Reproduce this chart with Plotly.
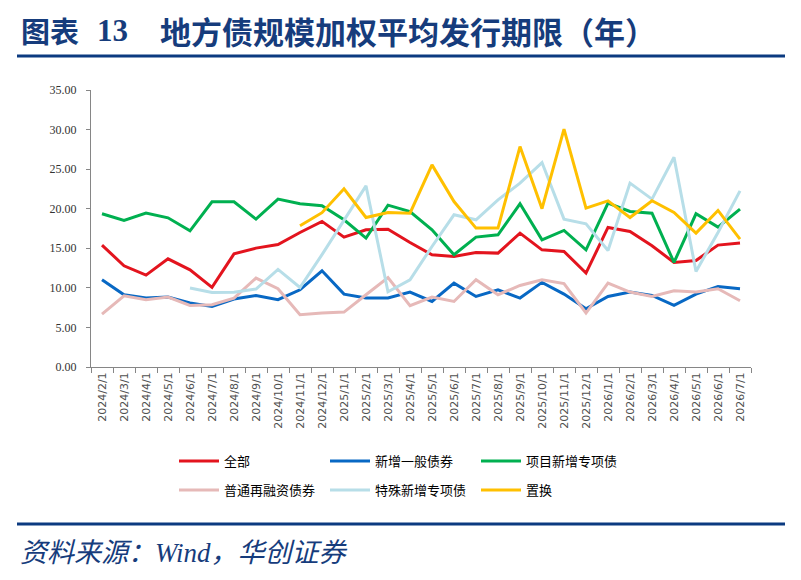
import plotly.graph_objects as go

# Categories (month labels on the x axis)
months = ["2024/2/1", "2024/3/1", "2024/4/1", "2024/5/1", "2024/6/1", "2024/7/1",
          "2024/8/1", "2024/9/1", "2024/10/1", "2024/11/1", "2024/12/1", "2025/1/1",
          "2025/2/1", "2025/3/1", "2025/4/1", "2025/5/1", "2025/6/1", "2025/7/1",
          "2025/8/1", "2025/9/1", "2025/10/1", "2025/11/1", "2025/12/1", "2026/1/1",
          "2026/2/1", "2026/3/1", "2026/4/1", "2026/5/1", "2026/6/1", "2026/7/1"]

# Series values (years)
quanbu = [15.40, 12.79, 11.61, 13.67, 12.28, 10.06, 14.30, 15.02, 15.48, 17.00,
          18.40, 16.41, 17.34, 17.40, 15.73, 14.18, 13.97, 14.47, 14.39, 16.92,
          14.80, 14.60, 11.87, 17.63, 17.12, 15.32, 13.21, 13.46, 15.40, 15.66]
xinzeng_yiban = [11.02, 9.13, 8.71, 8.84, 8.08, 7.66, 8.59, 9.04, 8.50, 9.76,
                 12.16, 9.21, 8.71, 8.71, 9.47, 8.28, 10.60, 8.91, 9.76, 8.71,
                 10.69, 9.21, 7.36, 8.91, 9.47, 9.04, 7.78, 9.21, 10.18, 9.89]
xiangmu_zhuanxiang = [19.36, 18.51, 19.44, 18.85, 17.21, 20.87, 20.87, 18.68, 21.21, 20.62,
                      20.38, 18.60, 16.29, 20.45, 19.65, 17.34, 14.18, 16.41, 16.70, 20.62,
                      16.07, 17.25, 14.81, 20.70, 19.65, 19.44, 13.21, 19.36, 17.67, 19.95]
putong_zairongzi = [6.69, 9.00, 8.50, 8.84, 7.78, 7.87, 8.71, 11.24, 9.89, 6.60,
                    6.82, 6.94, 9.13, 11.31, 7.74, 8.84, 8.28, 11.02, 9.13, 10.30,
                    11.02, 10.54, 6.82, 10.60, 9.47, 8.91, 9.63, 9.47, 9.89, 8.37]
teshu_zhuanxiang = [None, None, None, None, 9.97, 9.42, 9.45, 9.85, 12.33, 10.05,
                    14.20, 18.55, 22.89, 9.50, 11.02, 15.23, 19.23, 18.60, 21.12, 23.23,
                    25.83, 18.68, 18.09, 14.72, 23.23, 21.21, 26.51, 12.07, 17.00, 22.26]
zhihuan = [None, None, None, None, None, None, None, None, None, 17.84,
           19.50, 22.51, 18.89, 19.52, 19.44, 25.54, 20.91, 17.55, 17.55, 27.85,
           20.00, 30.05, 20.07, 21.00, 18.89, 21.00, 19.52, 16.92, 19.78, 16.16]

# page puts the figure 8px in from the top-left corner, so work in screen px minus that
OFF = 8
W, H = 801 - OFF, 580 - OFF
ML, MR, MT, MB = 91 - OFF, 50, 90 - OFF, 213
PW, PH = W - ML - MR, H - MT - MB

def px(x):  # screen pixel -> paper x
    return (x - OFF - ML) / PW

def py(y):  # screen pixel -> paper y
    return (H - MB - (y - OFF)) / PH

navy = '#163C7C'

fig = go.Figure()

series = [
    ("全部", quanbu, '#E3141E', 'legend'),
    ("新增一般债券", xinzeng_yiban, '#0868C4', 'legend'),
    ("项目新增专项债", xiangmu_zhuanxiang, '#00B050', 'legend'),
    ("普通再融资债券", putong_zairongzi, '#E6B9B8', 'legend2'),
    ("特殊新增专项债", teshu_zhuanxiang, '#B7DEE8', 'legend2'),
    ("置换", zhihuan, '#FFC000', 'legend2'),
]
for name, vals, color, leg in series:
    fig.add_trace(go.Scatter(x=months, y=vals, name=name, mode='lines',
                             line=dict(color=color, width=3), legend=leg))

fig.update_xaxes(type='category', range=[-0.5, len(months) - 0.5],
                 showline=True, linecolor='#868686', linewidth=1,
                 ticks='outside', tickson='boundaries', ticklen=5, tickcolor='#868686',
                 tickangle=-90, showgrid=False,
                 tickfont=dict(family='DejaVu Sans', size=11, color='#505050'))
fig.update_yaxes(range=[0, 35], dtick=5, tickformat='.2f', showline=True,
                 linecolor='#868686', linewidth=1, ticks='outside', ticklen=4,
                 tickcolor='#868686', showgrid=False, zeroline=False, ticklabelstandoff=7,
                 tickfont=dict(family='Liberation Serif', size=12, color='#333333'))

legend_common = dict(orientation='h', xref='container', yref='container',
                     xanchor='left', yanchor='middle', entrywidth=96, itemwidth=40,
                     bgcolor='rgba(0,0,0,0)',
                     font=dict(family='Noto Sans CJK SC', size=13, color='#000000'))

fig.update_layout(
    width=W, height=H,
    margin=dict(l=ML, r=MR, t=MT, b=MB),
    paper_bgcolor='white', plot_bgcolor='white',
    legend=dict(x=(174 - OFF) / W, y=1 - (461 - OFF) / H, **legend_common),
    legend2=dict(x=(174 - OFF) / W, y=1 - (490 - OFF) / H, **legend_common),
)

# Title, rules and source note
fig.add_annotation(xref='paper', yref='paper', x=px(19), y=py(30), xanchor='left', yanchor='middle',
                   showarrow=False, text="<b>图表</b>",
                   font=dict(family='Noto Sans CJK SC', size=29, color=navy))
fig.add_annotation(xref='paper', yref='paper', x=px(95), y=py(30), xanchor='left', yanchor='middle',
                   showarrow=False, text="<b>13</b>",
                   font=dict(family='Liberation Serif', size=31, color=navy))
fig.add_annotation(xref='paper', yref='paper', x=px(158), y=py(30), xanchor='left', yanchor='middle',
                   showarrow=False, text="<b>地方债规模加权平均发行期限（年）</b>",
                   font=dict(family='Noto Sans CJK SC', size=31, color=navy))
fig.add_annotation(xref='paper', yref='paper', x=px(18), y=py(553), xanchor='left', yanchor='middle',
                   showarrow=False, text="<i>资料来源：Wind，华创证券</i>",
                   font=dict(family='Liberation Serif, Noto Sans CJK SC', size=27, color=navy))
for yline in (56, 524):
    fig.add_shape(type='line', xref='paper', yref='paper', x0=px(17), x1=px(785),
                  y0=py(yline), y1=py(yline), line=dict(color='#0B3A80', width=3))

fig.write_html("out.html")
